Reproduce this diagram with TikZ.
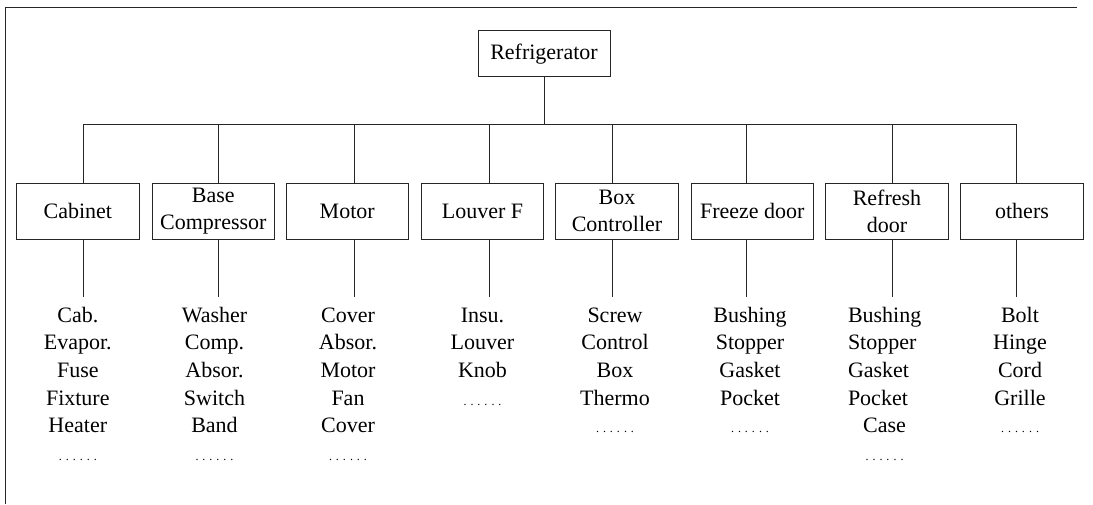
\documentclass[tikz,border=0pt]{standalone}
\usepackage{fontspec}
\setmainfont{Liberation Serif}
\newcommand{\sixdots}{{\fontsize{12}{12}\selectfont . . . . . .}}
\begin{document}
\begin{tikzpicture}[x=1pt,y=-1pt,
  line/.style={draw=black!85,line width=0.9pt},
  partbox/.style={draw=black!85,line width=0.9pt,minimum width=122.5pt,minimum height=56pt,inner sep=0pt,align=center,font=\fontsize{22}{27}\selectfont},
  rootbox/.style={draw=black!85,line width=0.9pt,minimum width=132pt,minimum height=46pt,inner sep=0pt,font=\fontsize{22}{27}\selectfont},
  itemlist/.style={anchor=base,align=center,inner sep=0pt,font=\fontsize{22}{27.7}\selectfont}]
\useasboundingbox (0,0) rectangle (1093,504);
% frame (top and left edges only)
\draw[line] (1077,7) -- (5,7) -- (5,504);
% root
\node[rootbox] (root) at (544,53.7) {Refrigerator};
\coordinate (bus) at (0,124);
% parts
\node[partbox] (b1) at (77.8,211) {Cabinet};
\node[partbox] (b2) at (213.3,211) {Base\\Compressor};
\node[partbox] (b3) at (347.2,211) {Motor};
\node[partbox] (b4) at (482.5,211) {Louver F};
\node[partbox] (b5) at (617,211) {Box\\Controller};
\node[partbox] (b6) at (752.3,211) {Freeze door};
\node[partbox] (b7) at (887,211) {Refresh\\door};
\node[partbox] (b8) at (1022,211) {others};
% connector points on top and bottom of boxes
\coordinate (t1) at ([xshift=5.5pt]b1.north);
\coordinate (t2) at ([xshift=5.4pt]b2.north);
\coordinate (t3) at ([xshift=7.1pt]b3.north);
\coordinate (t4) at ([xshift=6.8pt]b4.north);
\coordinate (t5) at ([xshift=-5pt]b5.north);
\coordinate (t6) at ([xshift=-5.6pt]b6.north);
\coordinate (t7) at ([xshift=5.7pt]b7.north);
\coordinate (t8) at ([xshift=-5.3pt]b8.north);
\draw[line] (root.south) -- (root.south |- bus);
\draw[line] (t1 |- bus) -- (t8 |- bus);
\foreach \i in {1,...,8}{
  \draw[line] (t\i |- bus) -- (t\i);
  \coordinate (s\i) at (t\i |- b\i.south);
  \coordinate (e\i) at ([yshift=-58pt]s\i);
  \draw[line] (s\i) -- (e\i);
}
% item lists (base anchor = baseline of the last line; first baseline at y=322)
\node[itemlist] (l1) at (77.8,460.5) {Cab.\\Evapor.\\Fuse\\Fixture\\Heater\\\sixdots};
\node[itemlist] (l2) at (214.5,460.5) {Washer\\Comp.\\Absor.\\Switch\\Band\\\sixdots};
\node[itemlist] (l3) at (348,460.5) {Cover\\Absor.\\Motor\\Fan\\Cover\\\sixdots};
\node[itemlist] (l4) at (482.5,405.1) {Insu.\\Louver\\Knob\\\sixdots};
\node[itemlist] (l5) at (615,432.8) {Screw\\Control\\Box\\Thermo\\\sixdots};
\node[itemlist] (l6) at (750,432.8) {Bushing\\Stopper\\Gasket\\Pocket\\\sixdots};
\node[itemlist] (l7) at (884.5,460.5) {\makebox[73pt][l]{Bushing}\\\makebox[73pt][l]{Stopper}\\\makebox[73pt][l]{Gasket}\\\makebox[73pt][l]{Pocket}\\Case\\\sixdots};
\node[itemlist] (l8) at (1020,432.8) {Bolt\\Hinge\\Cord\\Grille\\\sixdots};
\end{tikzpicture}
\end{document}
